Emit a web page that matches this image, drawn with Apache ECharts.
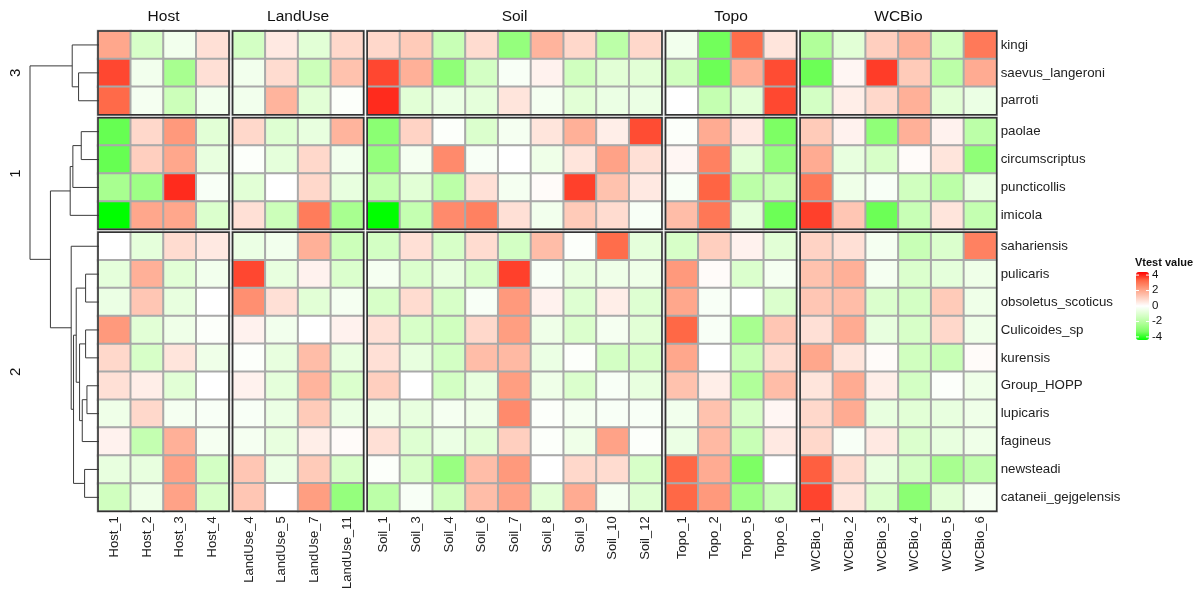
<!DOCTYPE html>
<html>
<head>
<meta charset="utf-8">
<script src="https://cdn.jsdelivr.net/npm/echarts@6/dist/echarts.min.js"></script>
<style>
  html, body { margin: 0; padding: 0; background: #fff; }
  #chart { width: 1204px; height: 592px; }
</style>
</head>
<body>
<div id="chart"></div>
<script>
// ---- Data: Vtest values per species (rows) and variable level (columns) ----
const species = ['kingi', 'saevus_langeroni', 'parroti',
  'paolae', 'circumscriptus', 'puncticollis', 'imicola',
  'sahariensis', 'pulicaris', 'obsoletus_scoticus', 'Culicoides_sp', 'kurensis',
  'Group_HOPP', 'lupicaris', 'fagineus', 'newsteadi', 'cataneii_gejgelensis'];
const clusterLabels = ['3', '1', '2'];
const clusterSizes = [3, 4, 10];

const hostCols = ['Host_1', 'Host_2', 'Host_3', 'Host_4'];
const landUseCols = ['LandUse_4', 'LandUse_5', 'LandUse_7', 'LandUse_11'];
const soilCols = ['Soil_1', 'Soil_3', 'Soil_4', 'Soil_6', 'Soil_7', 'Soil_8', 'Soil_9', 'Soil_10', 'Soil_12'];
const topoCols = ['Topo_1', 'Topo_2', 'Topo_5', 'Topo_6'];
const wcbioCols = ['WCBio_1', 'WCBio_2', 'WCBio_3', 'WCBio_4', 'WCBio_5', 'WCBio_6'];

const host = [
  [2.0, -1.2, -0.4, 0.7], [3.65, -0.4, -2.4, 0.7], [3.25, -0.3, -1.5, -0.4],
  [-3.5, 0.9, 2.3, -0.9], [-3.5, 1.1, 2.0, -0.7], [-2.4, -2.6, 3.95, -0.2], [-4.5, 2.0, 2.0, -1.1],
  [0.0, -0.8, 0.8, 0.5], [-0.8, 1.8, -0.9, -0.4], [-0.6, 1.3, -0.7, 0.0], [2.3, -0.9, -0.5, -0.1],
  [0.9, -1.2, 0.6, -0.5], [0.7, 0.4, -0.9, 0.0], [-0.5, 0.9, -0.3, -0.2], [0.3, -1.7, 1.8, -0.3],
  [-0.7, -0.7, 2.1, -1.3], [-1.4, -0.5, 2.1, -1.2]
];
const landUse = [
  [-1.3, 0.5, -0.9, 0.9], [-0.4, 0.8, -1.5, 1.4], [-0.4, 1.7, -0.9, -0.1],
  [0.9, -1.0, -0.7, 1.7], [-0.1, -0.8, 0.9, -0.4], [-0.9, 0.0, 0.9, -0.7], [0.7, -1.5, 2.9, -2.4],
  [-0.6, -0.4, 1.8, -1.5], [3.65, -0.7, 0.3, -1.1], [2.5, 0.7, -0.9, -0.3], [0.3, -0.4, 0.0, 0.3],
  [-0.1, -0.7, 1.5, -0.7], [0.3, -0.8, 1.7, -1.1], [-0.2, -0.6, 1.2, -0.6], [-0.3, -0.7, 0.4, 0.1],
  [1.3, -0.6, 1.2, -1.2], [1.3, 0.0, 2.2, -2.8]
];
const soil = [
  [0.9, 1.2, -1.6, 0.8, -2.8, 1.7, 0.9, -1.9, 0.9],
  [3.65, 1.8, -2.9, -1.3, -0.2, 0.3, -1.4, -0.9, -0.9],
  [3.95, -0.9, -0.6, -0.8, 0.6, -0.3, -0.9, -0.6, -0.6],
  [-3.0, 1.0, -0.1, -1.1, -0.3, 0.6, 1.8, 0.4, 3.6],
  [-2.8, -0.3, 2.6, -0.2, 0.0, -0.5, 0.6, 2.1, 0.7],
  [-1.7, -0.9, -1.9, 0.7, -0.3, 0.1, 3.72, 1.4, 0.5],
  [-4.5, -1.7, 2.6, 2.8, 0.7, -0.4, 1.2, 0.8, -0.2],
  [-1.3, 0.7, -1.2, 0.8, -1.3, 1.5, -0.1, 3.2, -0.8],
  [-0.3, -1.1, -0.7, -1.2, 3.72, -0.2, -0.7, -0.5, -0.5],
  [-1.2, 0.8, -1.2, -0.2, 2.3, 0.3, -1.0, 0.4, -1.0],
  [0.7, -1.2, -1.4, 0.9, 2.2, -0.5, -1.1, -0.3, -0.9],
  [0.7, -0.7, -1.3, 1.5, 1.6, -0.6, -0.1, -1.3, -1.2],
  [1.1, 0.0, -1.3, -0.7, 2.2, -0.5, -1.1, -0.2, -0.7],
  [-0.5, -0.7, -0.3, -0.5, 2.6, -0.1, -0.3, -0.2, -0.2],
  [0.7, -1.0, -0.6, -0.9, 1.1, -0.1, -0.5, 2.1, -0.1],
  [-0.1, -1.2, -2.7, 1.5, 2.3, 0.0, 0.9, 0.8, -1.2],
  [-1.9, -0.2, -1.4, 1.5, 2.1, -0.9, 1.9, -0.3, -1.0]
];
const topo = [
  [-0.4, -3.4, 3.2, 0.6], [-1.4, -3.45, 1.8, 3.6], [0.0, -1.7, -0.9, 3.64],
  [-0.1, 1.9, 0.5, -3.3], [0.2, 2.8, -0.9, -2.8], [-0.2, 3.34, -1.9, -1.6], [1.5, 3.0, -0.8, -3.45],
  [-1.2, 1.1, 0.3, -0.9], [2.3, 0.1, -1.1, -0.3], [2.0, -0.2, 0.0, -1.1], [3.3, -0.2, -2.4, 1.3],
  [2.0, 0.0, -1.6, 0.8], [1.4, 0.4, -2.2, 1.5], [-0.4, 1.4, -1.2, 0.2], [-0.6, 1.6, -1.6, 0.5],
  [3.3, 1.9, -3.3, 0.0], [3.3, 2.3, -2.6, -1.6]
];
const wcbio = [
  [-2.2, -0.9, 1.1, 1.8, -1.4, 2.95], [-3.45, 0.2, 3.77, 1.2, -1.9, 1.9], [-1.3, 0.4, 0.9, 1.8, -0.9, -0.6],
  [1.2, 0.3, -2.9, 1.8, 0.3, -1.9], [1.9, -0.7, -1.2, 0.1, 0.6, -2.9], [2.95, -0.5, -0.2, -1.4, -1.9, -0.7],
  [3.72, 1.3, -3.45, -1.6, 0.6, -1.7],
  [1.0, 0.7, -0.3, -1.6, -1.1, 2.8], [1.4, 1.8, -0.3, -1.1, -0.8, -0.5], [1.3, 1.5, -1.1, -1.3, 1.2, -0.5],
  [0.7, 1.9, -0.7, -1.2, 0.9, -0.5], [2.0, 0.6, 0.1, -1.4, -1.6, 0.1], [0.6, 1.9, 0.4, -1.3, -0.1, -0.5],
  [0.9, 1.9, -0.7, -0.9, -0.7, -0.5], [0.9, -0.2, 0.5, -1.1, -0.7, -0.5], [3.4, 0.8, -0.7, -1.3, -2.4, -1.8],
  [3.68, 0.6, -1.1, -3.0, -0.9, -0.3]
];

// Row dendrogram: [merge height, left branch, right branch]
const rowTree = [10.3,
  [4.0, 'kingi', [3.05, 'saevus_langeroni', 'parroti']],
  [7.25,
    [4.3, [3.9, [2.65, 'paolae', 'circumscriptus'], 'puncticollis'], 'imicola'],
    [4.15, 'sahariensis',
      [3.8,
        [3.4, [2.0, 'pulicaris', 'obsoletus_scoticus'],
          [2.9, [2.0, 'Culicoides_sp', 'kurensis'],
            [2.5, [1.8, 'Group_HOPP', 'lupicaris'], 'fagineus']]],
        [2.15, 'newsteadi', 'cataneii_gejgelensis']]]]
];

const legendTicks = [4, 2, 0, -2, -4];

// ---- Layout ----
const FONT = 'Liberation Sans, Arial, Helvetica, sans-serif';
const CW = 32.75, RH = 27.9, CGAP = 3.6, RGAP = 3;
const X0 = 98, Y0 = 31;
const M = 4.4;
const colorStops = ['#00FF00', '#7DFF64', '#B1FF9A', '#DBFFCD', '#FFFFFF',
  '#FFCFBF', '#FF9E81', '#FF6846', '#FF0000'];

const colBlocks = [
  { title: 'Host', cols: hostCols, vals: host },
  { title: 'LandUse', cols: landUseCols, vals: landUse },
  { title: 'Soil', cols: soilCols, vals: soil },
  { title: 'Topo', cols: topoCols, vals: topo },
  { title: 'WCBio', cols: wcbioCols, vals: wcbio }
];
const colX = [];
{ let x = X0; colBlocks.forEach(b => { colX.push(x); x += b.cols.length * CW + CGAP; }); }
const rowY = [], rowStart = [];
{ let y = Y0, s = 0; clusterSizes.forEach(n => { rowY.push(y); rowStart.push(s); y += n * RH + RGAP; s += n; }); }
const totalH = rowY[2] + clusterSizes[2] * RH - Y0;

const grids = [], xAxes = [], yAxes = [], series = [];
clusterSizes.forEach((nr, r) => {
  const rows = species.slice(rowStart[r], rowStart[r] + nr);
  colBlocks.forEach((b, c) => {
    const gi = grids.length;
    grids.push({
      left: colX[c], top: rowY[r], width: b.cols.length * CW, height: nr * RH,
      show: true, borderColor: '#333', borderWidth: 1.5, z: 10, backgroundColor: 'transparent'
    });
    const isTop = r === 0, isBottom = r === clusterSizes.length - 1;
    xAxes.push({
      type: 'category', gridIndex: gi, data: b.cols,
      position: isTop ? 'top' : 'bottom',
      axisLine: { show: false }, axisTick: { show: false }, splitLine: { show: false },
      axisLabel: { show: isBottom, rotate: 90, interval: 0, margin: 5, fontSize: 13, color: '#222', fontFamily: FONT },
      name: isTop ? b.title : '', nameLocation: 'middle', nameGap: 6,
      nameTextStyle: { fontSize: 15.5, color: '#111', fontFamily: FONT }
    });
    const isLast = c === colBlocks.length - 1, isFirst = c === 0;
    yAxes.push({
      type: 'category', gridIndex: gi, data: rows, inverse: true,
      position: isLast ? 'right' : 'left',
      axisLine: { show: false }, axisTick: { show: false }, splitLine: { show: false },
      axisLabel: { show: isLast, interval: 0, margin: 4, fontSize: 13.3, color: '#222', fontFamily: FONT },
      name: isFirst ? clusterLabels[r] : '', nameLocation: 'middle', nameRotate: 90, nameGap: 75,
      nameTextStyle: { fontSize: 15, color: '#111', fontFamily: FONT }
    });
    const data = [];
    rows.forEach((sp, yi) => {
      const vals = b.vals[rowStart[r] + yi];
      b.cols.forEach((col, xi) => data.push([xi, yi, vals[xi]]));
    });
    series.push({
      type: 'heatmap', xAxisIndex: gi, yAxisIndex: gi, data,
      itemStyle: { borderColor: '#A9A9A9', borderWidth: 2 },
      emphasis: { disabled: true }, silent: true
    });
  });
});
const nHeat = series.length;

// Dendrogram grid: x = merge height (root at left), y = offset from top of the heatmap body
const dgIndex = grids.length;
grids.push({ left: 30, top: Y0, width: X0 + 1 - 30, height: totalH });
xAxes.push({ type: 'value', gridIndex: dgIndex, min: 0, max: rowTree[0], inverse: true, show: false });
yAxes.push({ type: 'value', gridIndex: dgIndex, min: 0, max: totalH, inverse: true, show: false });

function leafY(name) {
  const i = species.indexOf(name);
  let r = 0;
  while (r < clusterSizes.length - 1 && i >= rowStart[r + 1]) r++;
  return rowY[r] - Y0 + (i - rowStart[r] + 0.5) * RH;
}
const segs = [];
function walk(node) {
  if (typeof node === 'string') return { h: 0, y: leafY(node) };
  const a = walk(node[1]), b = walk(node[2]);
  segs.push({ coords: [[a.h, a.y], [node[0], a.y], [node[0], b.y], [b.h, b.y]] });
  return { h: node[0], y: (a.y + b.y) / 2 };
}
walk(rowTree);
series.push({
  type: 'lines', coordinateSystem: 'cartesian2d', xAxisIndex: dgIndex, yAxisIndex: dgIndex,
  polyline: true, data: segs, silent: true,
  lineStyle: { color: '#3a3a3a', width: 1, opacity: 1 }
});

// Colour legend
const LG = { left: 1136, top: 272, w: 13, h: 68 };
const graphics = [{
  type: 'text', left: 1135, top: 257, z: 100,
  style: { text: 'Vtest value', font: 'bold 11px ' + FONT, fill: '#111' }
}];
legendTicks.forEach(v => {
  const y = LG.top + (M - v) / (2 * M) * LG.h;
  graphics.push({ type: 'text', left: LG.left + LG.w + 3, top: y - 6.5, z: 100,
    style: { text: String(v), font: '11.5px ' + FONT, fill: '#111' } });
  graphics.push({ type: 'line', shape: { x1: LG.left, y1: y, x2: LG.left + 3, y2: y },
    style: { stroke: '#fff', lineWidth: 1 }, z: 100 });
  graphics.push({ type: 'line', shape: { x1: LG.left + LG.w - 3, y1: y, x2: LG.left + LG.w, y2: y },
    style: { stroke: '#fff', lineWidth: 1 }, z: 100 });
});

const chart = echarts.init(document.getElementById('chart'), null, { renderer: 'canvas' });
chart.setOption({
  animation: false,
  backgroundColor: '#fff',
  textStyle: { fontFamily: FONT },
  grid: grids, xAxis: xAxes, yAxis: yAxes,
  visualMap: {
    type: 'continuous', min: -M, max: M, seriesIndex: [...Array(nHeat).keys()],
    inRange: { color: colorStops }, calculable: false, show: true, padding: 0,
    left: LG.left, top: LG.top, itemWidth: LG.w, itemHeight: LG.h
  },
  graphic: graphics,
  series
});
</script>
</body>
</html>
